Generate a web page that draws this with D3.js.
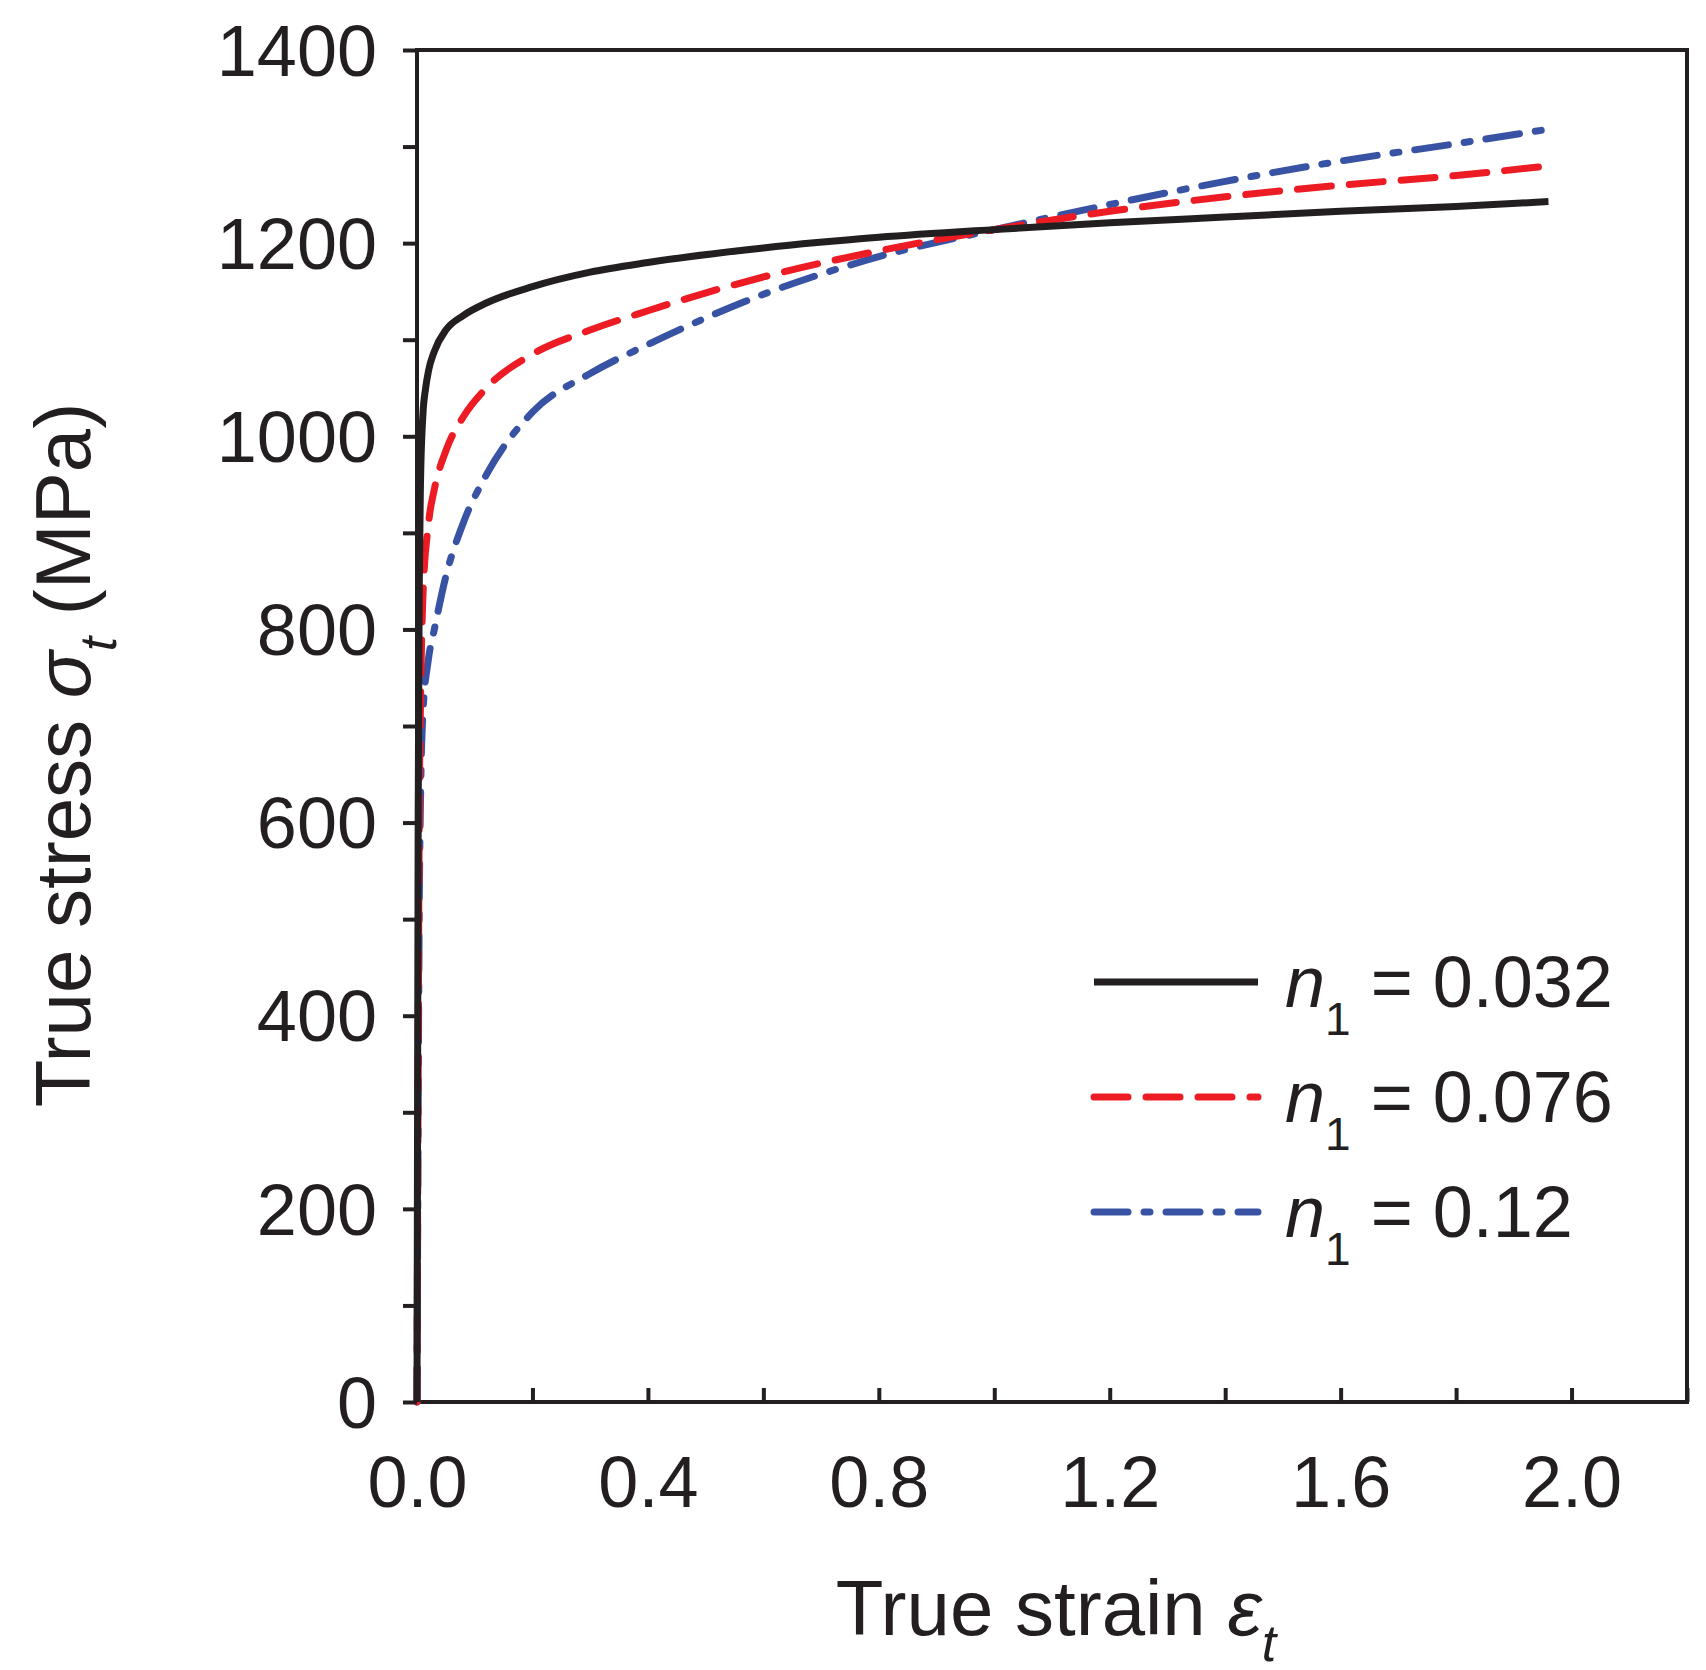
<!DOCTYPE html><html><head><meta charset="utf-8"><script src="https://cdn.jsdelivr.net/npm/d3@7"></script>
<style>body{margin:0;background:#fff}text{font-family:Arial,"Liberation Sans",sans-serif;fill:#231f20}</style></head><body><svg id="c" width="1706" height="1670"></svg><script>
const xTicks=[0,0.4,0.8,1.2,1.6,2.0];
const yTicks=[0,200,400,600,800,1000,1200,1400];
const blackX=[0,0.001,0.002,0.004,0.006,0.01,0.015,0.02,0.03,0.05,0.08,0.12,0.2,0.3,0.4,0.6,0.8,1.0,1.2,1.4,1.6,1.8,1.96];
const blackY=[0,300,600,850,950,1020,1050,1068,1088,1110,1125,1138,1155,1170,1180,1195,1206,1214,1221,1227,1233,1238,1243];
const redX=[0,0.002,0.004,0.006,0.01,0.02,0.03,0.05,0.08,0.12,0.2,0.3,0.4,0.6,0.8,1.0,1.2,1.4,1.6,1.8,1.96];
const redY=[0,350,620,720,830,910,945,985,1020,1050,1085,1110,1130,1165,1192,1214,1233,1248,1260,1270,1280];
const blueX=[0,0.002,0.004,0.006,0.01,0.02,0.03,0.05,0.08,0.12,0.2,0.3,0.4,0.6,0.8,1.0,1.2,1.4,1.6,1.8,1.96];
const blueY=[0,300,520,620,710,770,800,855,910,960,1025,1065,1095,1147,1186,1214,1240,1264,1285,1303,1318];
const series=[{name:"0.032",x:blackX,y:blackY,color:"#231f20",dash:null},
{name:"0.076",x:redX,y:redY,color:"#ed1c24",dash:"34,18"},
{name:"0.12",x:blueX,y:blueY,color:"#3953a4",dash:"34,16,6,16"}];
const svg=d3.select("#c");
const x=d3.scaleLinear().domain([0,2.2]).range([417,1687]);
const y=d3.scaleLinear().domain([0,1400]).range([1402,50]);
const g=svg.append("g");
g.append("rect").attr("x",417).attr("y",50).attr("width",1270).attr("height",1352).attr("fill","none").attr("stroke","#231f20").attr("stroke-width",4);
const xa=svg.append("g").attr("transform","translate(0,1402)").call(d3.axisBottom(x).tickValues(d3.range(0,2.21,0.2)).tickSize(-14).tickFormat(d=>xTicks.some(t=>Math.abs(t-d)<1e-6)?d3.format(".1f")(d):""));
xa.select(".domain").remove();
xa.selectAll("line").attr("stroke","#231f20").attr("stroke-width",4);
xa.selectAll("text").attr("font-size",72).attr("dy",0).attr("y",105).style("font-family","Arial,'Liberation Sans',sans-serif").attr("fill","#231f20");
const ya=svg.append("g").attr("transform","translate(417,0)").call(d3.axisLeft(y).tickValues(d3.range(0,1401,100)).tickSize(14).tickFormat(d=>d%200===0?d:""));
ya.select(".domain").remove();
ya.selectAll("line").attr("stroke","#231f20").attr("stroke-width",4);
ya.selectAll("text").attr("font-size",72).attr("x",-40).attr("dy","0.35em").attr("fill","#231f20");
const line=d3.line().x(d=>x(d[0])).y(d=>y(d[1])).curve(d3.curveMonotoneX);
series.slice().reverse().forEach(s=>{
 g.append("path").attr("d",line(s.x.map((v,i)=>[v,s.y[i]]))).attr("fill","none").attr("stroke",s.color).attr("stroke-width",7).attr("stroke-dasharray",s.dash).attr("stroke-linecap",s.dash?"round":"butt");
});
series.forEach((s,i)=>{
 const yy=982+i*115;
 svg.append("line").attr("x1",1094).attr("x2",1258).attr("y1",yy).attr("y2",yy).attr("stroke",s.color).attr("stroke-width",7).attr("stroke-dasharray",s.dash).attr("stroke-linecap",s.dash?"round":"butt");
 const t=svg.append("text").attr("x",1285).attr("y",yy+25).attr("font-size",72);
 t.append("tspan").attr("font-style","italic").text("n");
 t.append("tspan").attr("font-size",46).attr("dy",28).text("1");
 t.append("tspan").attr("dy",-28).text(" = "+s.name);
});
const xt=svg.append("text").attr("x",1056).attr("y",1635).attr("font-size",78).attr("text-anchor","middle");
xt.append("tspan").text("True strain ");
xt.append("tspan").attr("font-style","italic").text("ε");
xt.append("tspan").attr("font-style","italic").attr("font-size",52).attr("dy",26).text("t");
const yt=svg.append("text").attr("transform","translate(90,755) rotate(-90)").attr("font-size",78).attr("text-anchor","middle");
yt.append("tspan").text("True stress ");
yt.append("tspan").attr("font-style","italic").text("σ");
yt.append("tspan").attr("font-style","italic").attr("font-size",52).attr("dy",26).text("t");
yt.append("tspan").attr("dy",-26).text(" (MPa)");
</script></body></html>
